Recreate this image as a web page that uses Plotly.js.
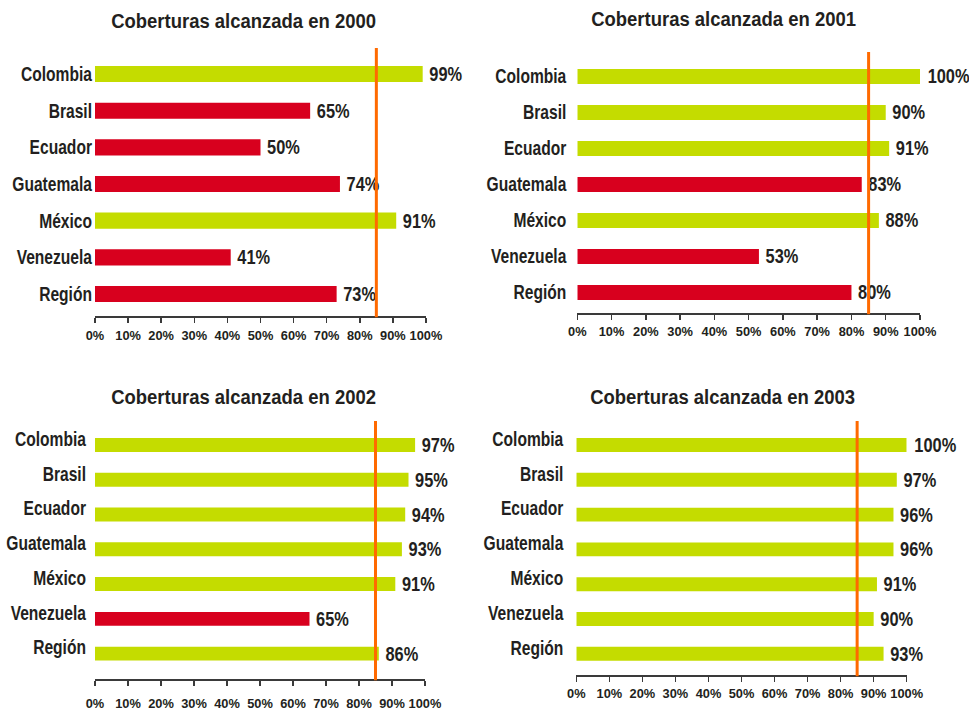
<!DOCTYPE html>
<html>
<head>
<meta charset="utf-8">
<script src="https://cdn.plot.ly/plotly-3.0.1.min.js"></script>
<style>html,body{margin:0;padding:0;background:#fff;}#chart{width:969px;height:711px;}</style>
</head>
<body>
<div id="chart"></div>
<script>
const categories = ['Colombia', 'Brasil', 'Ecuador', 'Guatemala', 'México', 'Venezuela', 'Región'];
const years = ['2000', '2001', '2002', '2003'];
const cov2000 = [99, 65, 50, 74, 91, 41, 73];
const cov2001 = [100, 90, 91, 83, 88, 53, 80];
const cov2002 = [97, 95, 94, 93, 91, 65, 86];
const cov2003 = [100, 97, 96, 96, 91, 90, 93];
const target = 85;
const tickValues = [0, 10, 20, 30, 40, 50, 60, 70, 80, 90, 100];
const tickLabels = ['0%', '10%', '20%', '30%', '40%', '50%', '60%', '70%', '80%', '90%', '100%'];

const series = [cov2000, cov2001, cov2002, cov2003];
const GREEN = '#c4dc00';
const RED = '#d8001e';
const ORANGE = '#ff6a00';
const INK = '#231f20';
const FONT = '"Liberation Sans", Arial, sans-serif';

const W = 969, H = 711;
const panels = [
  {x: [95, 426], y: [48, 316], range: [6.6, -0.71], bw: 0.44, xstand: 1, ystand: 2, shift: 0, title: [243, 20]},
  {x: [577.3, 920], y: [52, 313], range: [6.57, -0.68], bw: 0.42, xstand: 0, ystand: 10, shift: 0, title: [723, 19]},
  {x: [95, 425], y: [421, 679], range: [6.73, -0.69], bw: 0.40, xstand: 6, ystand: 8, shift: 6, title: [243, 396]},
  {x: [576.3, 906.7], y: [421, 675], range: [6.61, -0.69], bw: 0.40, xstand: 0, ystand: 12, shift: 6, title: [722, 396]}
];

const data = [];
const layout = {
  width: W, height: H,
  margin: {l: 0, r: 0, t: 0, b: 0},
  paper_bgcolor: '#ffffff', plot_bgcolor: '#ffffff',
  showlegend: false,
  font: {family: FONT, color: INK, weight: 'bold'},
  shapes: [], annotations: []
};

series.forEach((vals, i) => {
  const n = i === 0 ? '' : String(i + 1);
  const p = panels[i];
  data.push({
    type: 'bar', orientation: 'h',
    x: vals, y: categories,
    xaxis: 'x' + n, yaxis: 'y' + n,
    width: p.bw,
    marker: {color: vals.map(v => v >= target ? GREEN : RED), line: {width: 0}},
    text: vals.map(v => v + '%'),
    textposition: 'outside',
    constraintext: 'none',
    cliponaxis: false,
    textfont: {family: FONT, size: 20, color: INK, weight: 'bold'},
    hoverinfo: 'x+y'
  });
  layout['xaxis' + n] = {
    domain: [p.x[0] / W, p.x[1] / W],
    anchor: 'y' + n,
    range: [0, 100],
    tickvals: tickValues, ticktext: tickLabels,
    tickangle: 0,
    showgrid: false, zeroline: false,
    showline: true, linecolor: '#3a3a3a', linewidth: 2,
    ticks: 'outside', ticklen: 5, tickwidth: 1.5, tickcolor: '#3a3a3a',
    tickfont: {family: FONT, size: 13.5, color: INK, weight: 'bold'},
    ticklabelstandoff: p.xstand,
    fixedrange: true
  };
  layout['yaxis' + n] = {
    domain: [1 - p.y[1] / H, 1 - p.y[0] / H],
    anchor: 'x' + n,
    type: 'category',
    categoryorder: 'array', categoryarray: categories,
    range: p.range,
    showgrid: false, zeroline: false, showline: false,
    ticks: '',
    ticklabelstandoff: p.ystand,
    ticklabelshift: p.shift,
    tickfont: {family: FONT, size: 19.5, color: INK, weight: 'bold'},
    fixedrange: true
  };
  layout.shapes.push({
    type: 'line', xref: 'x' + n, yref: 'y' + n + ' domain',
    x0: target, x1: target, y0: -0.005, y1: 1,
    line: {color: ORANGE, width: 3}
  });
  layout.annotations.push({
    xref: 'paper', yref: 'paper',
    x: p.title[0] / W, y: 1 - p.title[1] / H,
    xanchor: 'center', yanchor: 'middle',
    text: 'Coberturas alcanzada en ' + years[i],
    showarrow: false,
    font: {family: FONT, size: 21, color: INK, weight: 'bold'}
  });
});

// condensed lettering like the original: narrow texts horizontally around their anchors
function condense(el, s) {
  const x = parseFloat(el.getAttribute('x')) || 0;
  const tr = el.getAttribute('transform') || '';
  el.setAttribute('transform', (tr ? tr + ' ' : '') + 'translate(' + x + ',0) scale(' + s + ',1) translate(' + (-x) + ',0)');
}

Plotly.newPlot('chart', data, layout, {displayModeBar: false, staticPlot: true}).then(gd => {
  gd.querySelectorAll('text.annotation-text').forEach(t => condense(t, 0.88));
  gd.querySelectorAll('g.ytick text, g.y2tick text, g.y3tick text, g.y4tick text').forEach(t => condense(t, 0.80));
  gd.querySelectorAll('text.bartext').forEach(t => condense(t, 0.82));
  gd.querySelectorAll('g.xtick text, g.x2tick text, g.x3tick text, g.x4tick text').forEach(t => condense(t, 0.95));
});
</script>
</body>
</html>
